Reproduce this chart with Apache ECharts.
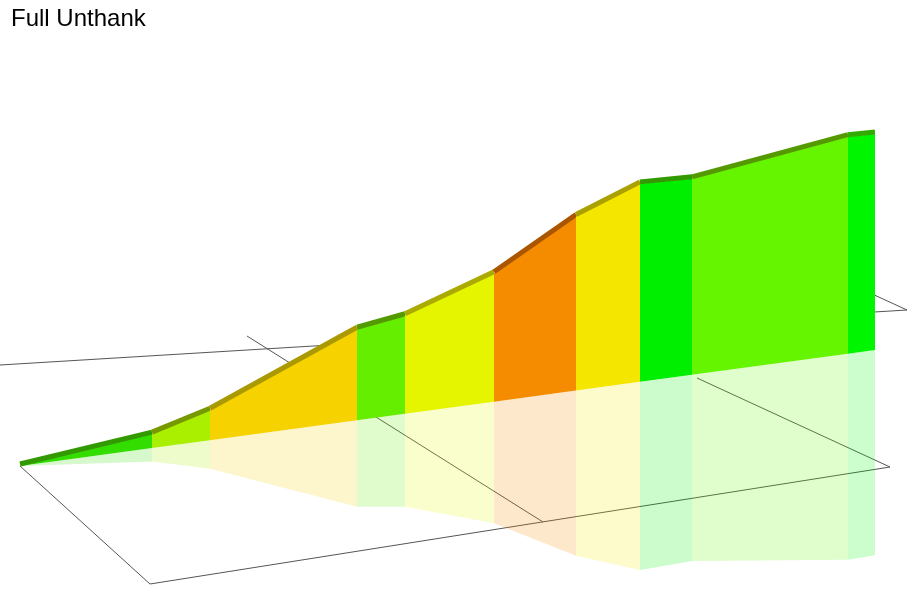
<!DOCTYPE html>
<html><head><meta charset="utf-8">
<script src="https://cdn.jsdelivr.net/npm/echarts@6/dist/echarts.min.js"></script>
<style>html,body{margin:0;background:#fff}#c{width:907px;height:607px}</style>
</head><body><div id="c"></div>
<script>
// distance (km) and elevation (m) along the climb
var distances = [0, 1.32, 1.9, 3.37, 3.85, 4.74, 5.56, 6.2, 6.72, 8.28, 8.55];
var elevations = [0, 14, 30, 91, 98, 128, 174, 198, 196, 217, 216];
var segColors = ['#33dd00', '#aaee00', '#f5d200', '#66ee00', '#e5f500', '#f58c00', '#f5e600', '#00ee00', '#66f500', '#00f500'];
var edgeColors = ['#339900', '#779900', '#aa9900', '#559900', '#aaaa00', '#aa5500', '#aaa000', '#339900', '#559900', '#33aa00'];

var dom = document.getElementById('c');
var myChart = echarts.init(dom);

var shear = 0.1357;
function proj(api, d, e) {
    var p = api.coord([d, e]);
    var b = api.coord([d, 0]);
    var off = (b[0] - 20) * shear;
    return { top: [p[0], p[1] - off], base: [b[0], b[1] - off], h: b[1] - p[1] };
}

var segs = [];
for (var i = 0; i < segColors.length; i++) segs.push([i]);

var option = {
    title: { text: 'Full Unthank', left: 6, top: 2, textStyle: { fontFamily: 'Liberation Sans', fontWeight: 'normal', fontSize: 24, color: '#000' } },
    grid: { left: 20, right: 32, top: 250, bottom: 141 },
    xAxis: { type: 'value', min: 0, max: 8.55, show: false },
    yAxis: { type: 'value', min: 0, max: 216, show: false },
    graphic: [
        { type: 'polyline', shape: { points: [[0, 365], [907, 310]] }, style: { stroke: '#555', lineWidth: 1 }, z: -1 },
        { type: 'polyline', shape: { points: [[20, 466], [150, 584], [890, 467]] }, style: { stroke: '#555', lineWidth: 1, fill: null }, z: -1 },
        { type: 'polyline', shape: { points: [[247, 336], [543, 522]] }, style: { stroke: '#555', lineWidth: 1 }, z: -1 },
        { type: 'polyline', shape: { points: [[697, 378], [890, 467]] }, style: { stroke: '#555', lineWidth: 1 }, z: -1 },
        { type: 'polyline', shape: { points: [[870, 293], [907, 310]] }, style: { stroke: '#555', lineWidth: 1 }, z: -1 }
    ],
    series: [{
        type: 'custom',
        data: segs,
        renderItem: function (params, api) {
            var i = api.value(0);
            var a = proj(api, distances[i], elevations[i]);
            var b = proj(api, distances[i + 1], elevations[i + 1]);
            var ra = [a.base[0], a.base[1] + a.h * 0.95];
            var rb = [b.base[0], b.base[1] + b.h * 0.95];
            return {
                type: 'group',
                children: [
                    { type: 'polygon', shape: { points: [a.base, ra, rb, b.base] }, style: { fill: segColors[i], opacity: 0.2 } },
                    { type: 'polygon', shape: { points: [a.base, a.top, b.top, b.base] }, style: { fill: segColors[i] } },
                    { type: 'polyline', shape: { points: [[a.top[0], a.top[1] - 2], [b.top[0], b.top[1] - 2]] }, style: { stroke: edgeColors[i], lineWidth: 5, fill: null } }
                ]
            };
        }
    }]
};
myChart.setOption(option, true);
</script></body></html>
